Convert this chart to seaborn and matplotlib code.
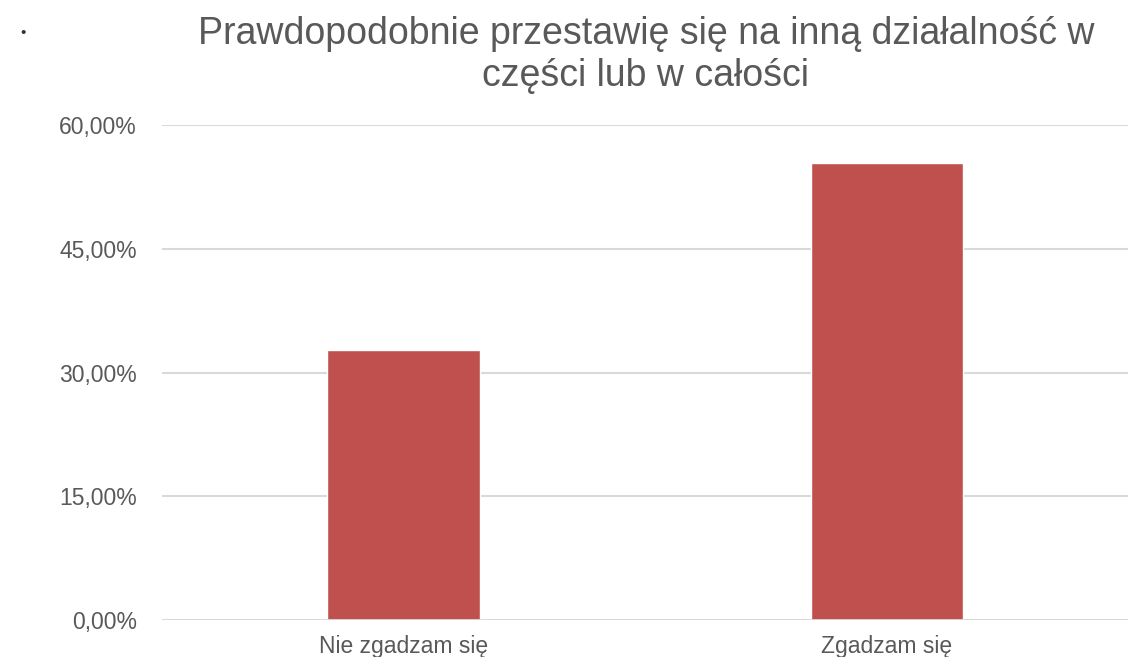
import pandas as pd
import matplotlib
matplotlib.use("Agg")
import matplotlib.pyplot as plt
from matplotlib.ticker import FuncFormatter
import seaborn as sns

# dane
kategorie = ["Nie zgadzam się", "Zgadzam się"]
wartosci = [32.7, 55.4]
tytul = "Prawdopodobnie przestawię się na inną działalność w\nczęści lub w całości"

df = pd.DataFrame({"kat": kategorie, "val": wartosci})

sns.set_style("white")
plt.rcParams["font.family"] = ["Liberation Sans", "DejaVu Sans"]

txt = "#595959"
fig = plt.figure(figsize=(11.33, 6.57), dpi=100)
ax = fig.add_axes([0.143, 0.0563, 0.8527, 0.7534])

sns.barplot(data=df, x="kat", y="val", color="#C0504D", width=0.315,
            saturation=1, ax=ax, zorder=3)

ax.set_ylim(0, 60)
ax.set_yticks([0, 15, 30, 45, 60])
ax.yaxis.set_major_formatter(FuncFormatter(lambda v, p: f"{v:.2f}".replace(".", ",") + "%"))
ax.grid(axis="y", color="#D9D9D9", linewidth=1.5, zorder=0)
ax.set_axisbelow(True)
for s in ax.spines.values():
    s.set_visible(False)
ax.axhline(0, color="#D9D9D9", linewidth=2, zorder=4)

ax.set_xlabel("")
ax.set_ylabel("")
ax.tick_params(axis="both", length=0, labelsize=16.5, labelcolor=txt)
ax.tick_params(axis="y", pad=18)
ax.tick_params(axis="x", pad=11)

fig.text(0.57, 0.975, tytul, ha="center", va="top", fontsize=27,
         color=txt, linespacing=1.2)
fig.text(0.02, 0.95, "•", ha="center", va="center", fontsize=11, color="#333333")

plt.savefig("out.png", dpi=100)
